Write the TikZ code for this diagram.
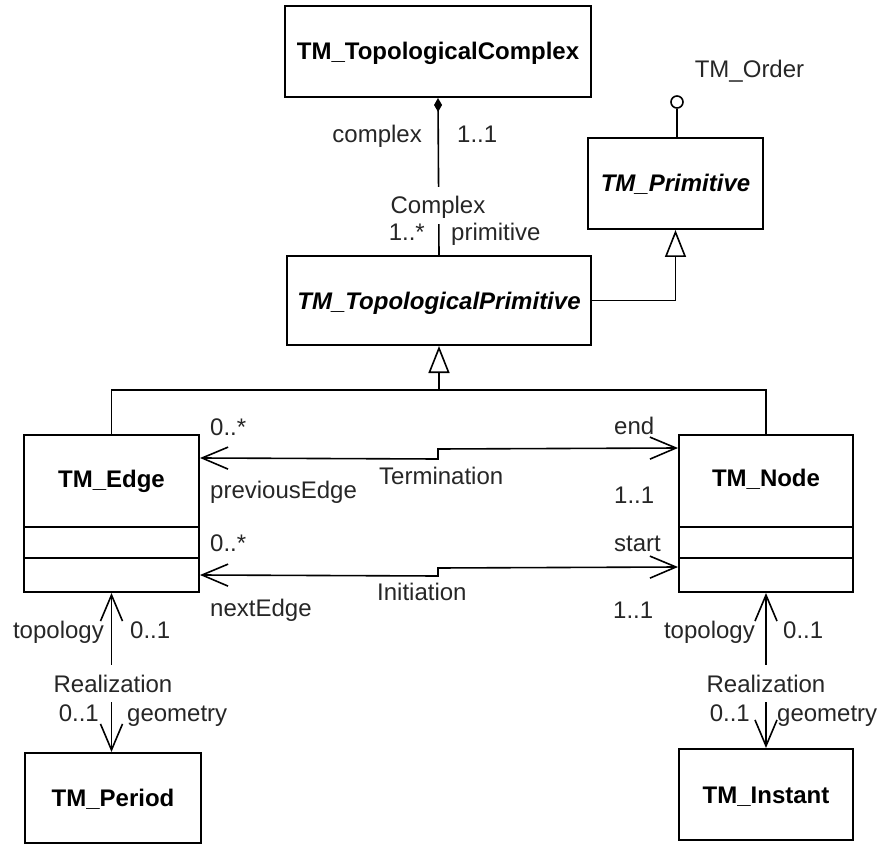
\documentclass[tikz,border=0pt]{standalone}
\usepackage{fontspec}
\setmainfont{Liberation Sans}
\usetikzlibrary{arrows.meta}
\begin{document}
\begin{tikzpicture}[x=1pt,y=-1pt,
  cls/.style={draw, line width=2pt, inner sep=0pt, text height=17pt, text depth=0pt,
    font=\fontsize{24}{28}\selectfont\bfseries},
  abscls/.style={cls, font=\fontsize{24}{28}\selectfont\bfseries\itshape},
  title/.style={inner sep=0pt, text height=17pt, text depth=0pt,
    font=\fontsize{24}{28}\selectfont\bfseries},
  lbl/.style={inner sep=0pt, text height=17pt, text depth=0pt,
    font=\fontsize{24}{28}\selectfont, text=black!85},
  brk/.style={lbl, fill=white, inner xsep=3pt, inner ysep=10pt},
  conn/.style={line width=1.6pt},
  sep/.style={line width=2pt},
  gen/.style={conn, -{Triangle[open, length=27pt, width=21pt, line width=1.6pt]}},
  nav/.style={conn, {Straight Barb[length=26pt, width=22pt, line width=1.6pt]}-{Straight Barb[length=26pt, width=22pt, line width=1.6pt]}},
  compo/.style={conn, {Diamond[length=14pt, width=8pt]}-}
]
\useasboundingbox (0,0) rectangle (884,845);

% classes
\node[cls, minimum width=306pt, minimum height=91pt] (cplx) at (438,51.5) {TM\_TopologicalComplex};
\node[abscls, minimum width=304pt, minimum height=89pt] (tprim) at (439,300.5) {TM\_TopologicalPrimitive};
\node[abscls, minimum width=175pt, minimum height=91pt] (prim) at (675.5,183.5) {TM\_Primitive};
\node[cls, minimum width=175pt, minimum height=157pt] (edge) at (111.5,513.5) {};
\node[title] (edgeN) at (111.5,479) {TM\_Edge};
\node[cls, minimum width=174pt, minimum height=157pt] (node) at (766,513.5) {};
\node[title] (nodeN) at (766,478) {TM\_Node};
\node[cls, minimum width=176pt, minimum height=90pt] (period) at (113,798) {TM\_Period};
\node[cls, minimum width=174pt, minimum height=91pt] (instant) at (766,794.5) {TM\_Instant};

% compartments
\draw[sep] (edge.west |- 0,527) -- (edge.east |- 0,527);
\draw[sep] (edge.west |- 0,558) -- (edge.east |- 0,558);
\draw[sep] (node.west |- 0,527) -- (node.east |- 0,527);
\draw[sep] (node.west |- 0,558) -- (node.east |- 0,558);

% composition
\draw[compo] (cplx.south) -- (tprim.north);
\node[brk] (cpxl) at (438,205.5) {Complex};
\node[lbl, anchor=east] (cpx1) at (422,134) {complex};
\node[lbl, anchor=west] (cpx2) at (457,134) {1..1};
\node[lbl, anchor=east] (cpx3) at (425,232) {1..*};
\node[lbl, anchor=west] (cpx4) at (451,232) {primitive};

% lollipop interface
\node[draw, circle, line width=1.6pt, minimum size=12pt, inner sep=0pt] (ord) at (677,102) {};
\draw[conn] (ord.south |- prim.north) -- (ord.south);
\node[lbl] (ordl) at (749.5,69) {TM\_Order};

% generalizations
\draw[gen] (tprim.east) -| (prim.south);
\coordinate (gj) at (439,390);
\draw[conn] (edge.north) |- (gj) -| (node.north);
\draw[gen] (gj) -- (tprim.south);

% Termination
\draw[nav] ([yshift=-24pt]edge.north east) -- (438,459) -- (438,449) -- ([yshift=-14pt]node.north west);
\node[lbl, anchor=west] (t1) at (210,427) {0..*};
\node[lbl, anchor=west] (t2) at (210,490) {previousEdge};
\node[lbl, anchor=west] (t3) at (379,476) {Termination};
\node[lbl, anchor=west] (t4) at (614,426) {end};
\node[lbl, anchor=west] (t5) at (614,495) {1..1};

% Initiation
\draw[nav] ([yshift=-141pt]edge.north east) -- (438,576) -- (438,568) -- ([yshift=-133pt]node.north west);
\node[lbl, anchor=west] (i1) at (210,543) {0..*};
\node[lbl, anchor=west] (i2) at (210,608) {nextEdge};
\node[lbl, anchor=west] (i3) at (377,592) {Initiation};
\node[lbl, anchor=west] (i4) at (614,543) {start};
\node[lbl, anchor=west] (i5) at (613,610) {1..1};

% Realization left
\draw[nav] (edge.south) -- (edge.south |- period.north);
\node[brk] (rl) at (113,683.5) {Realization};
\node[lbl, anchor=east] (rl1) at (104,630) {topology};
\node[lbl, anchor=west] (rl2) at (130,630) {0..1};
\node[lbl, anchor=east] (rl3) at (99,713) {0..1};
\node[lbl, anchor=west] (rl4) at (127,713) {geometry};

% Realization right
\draw[nav] (node.south) -- (node.south |- instant.north);
\node[brk] (rr) at (766,683.5) {Realization};
\node[lbl, anchor=east] (rr1) at (755,630) {topology};
\node[lbl, anchor=west] (rr2) at (783,630) {0..1};
\node[lbl, anchor=east] (rr3) at (750,713) {0..1};
\node[lbl, anchor=west] (rr4) at (777,713) {geometry};
\end{tikzpicture}
\end{document}
